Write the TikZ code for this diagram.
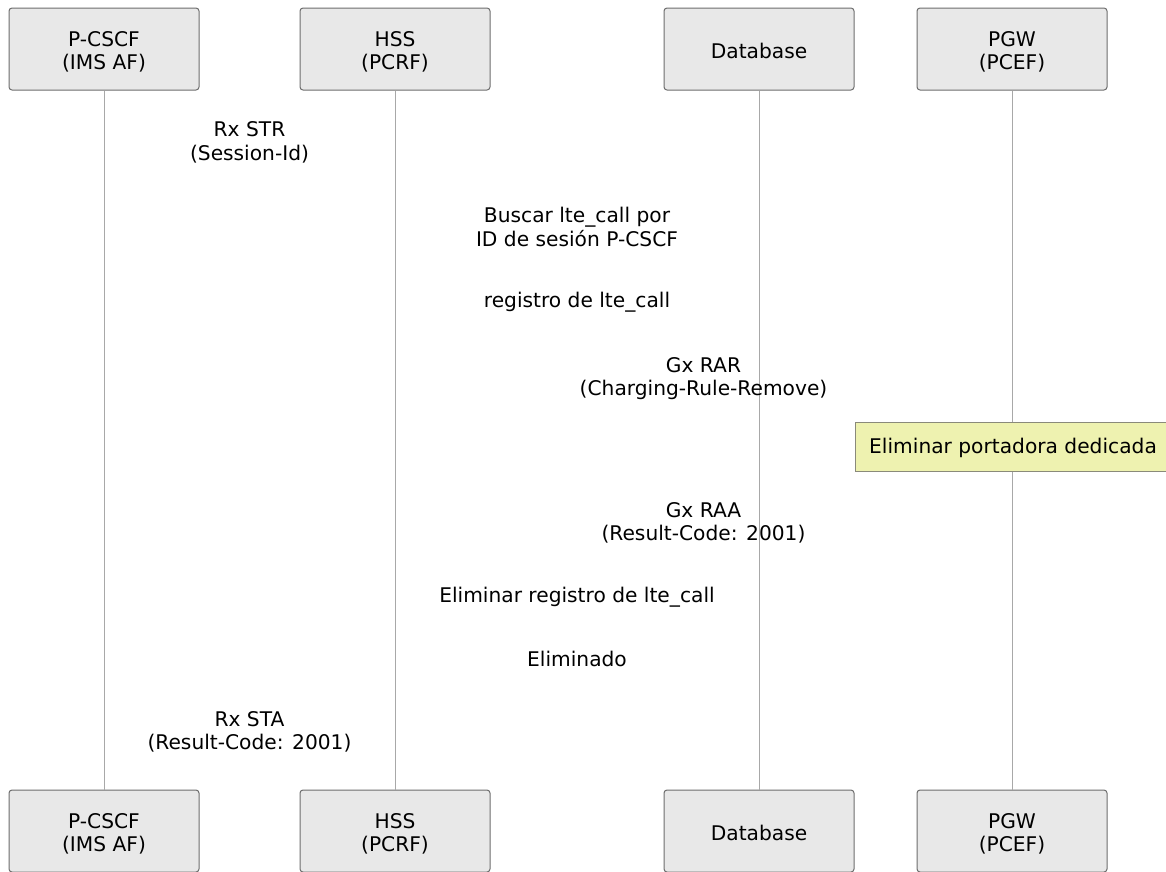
\documentclass[tikz,border=0pt]{standalone}
\usepackage{fontspec}
\setmainfont{DejaVu Sans}
\definecolor{boxfill}{HTML}{E8E8E8}
\definecolor{boxline}{HTML}{6E6E6E}
\definecolor{lifeline}{HTML}{A8A8A8}
\definecolor{notefill}{HTML}{EEF2B0}
\definecolor{noteline}{HTML}{8A8A7A}
\begin{document}
\begin{tikzpicture}[x=1pt,y=-1pt,
  txt/.style={font=\fontsize{20.2}{23.4}\selectfont, align=center, inner sep=0pt},
  actor/.style={draw=boxline, line width=1pt, fill=boxfill, rounded corners=3pt,
    minimum width=190pt, minimum height=82pt},
  life/.style={draw=lifeline, line width=1pt},
  msg/.style={txt}]
\useasboundingbox (0,0) rectangle (1166,871);
\clip (0,0) rectangle (1166,871);
\fill[white] (0,0) rectangle (1166,871);
% actors top
\node[actor] (a1) at (104,49) {};
\node[actor] (a2) at (395,49) {};
\node[actor] (a3) at (759,49) {};
\node[actor] (a4) at (1012,49) {};
\node[txt] (a1t) at (104,52) {P-CSCF\\(IMS AF)};
\node[txt] (a2t) at (395,52) {HSS\\(PCRF)};
\node[txt] (a3t) at (759,51) {Database};
\node[txt] (a4t) at (1012,52) {PGW\\(PCEF)};
% actors bottom
\node[actor] (b1) at (104,831) {};
\node[actor] (b2) at (395,831) {};
\node[actor] (b3) at (759,831) {};
\node[actor] (b4) at (1012,831) {};
\node[txt] (b1t) at (104,834) {P-CSCF\\(IMS AF)};
\node[txt] (b2t) at (395,834) {HSS\\(PCRF)};
\node[txt] (b3t) at (759,833) {Database};
\node[txt] (b4t) at (1012,834) {PGW\\(PCEF)};
% lifelines
\draw[life] (a1.south) -- (b1.north);
\draw[life] (a2.south) -- (b2.north);
\draw[life] (a3.south) -- (b3.north);
\draw[life] (a4.south) -- (b4.north);
% messages
\node[msg] (m1) at (249.5,142.5) {Rx STR\\(Session-Id)};
\node[msg] (m2) at (577,227) {Buscar lte\_call por\\ID de sesión P-CSCF};
\node[msg] (m3) at (577,302) {registro de lte\_call};
\node[msg] (m4) at (703.5,378.5) {Gx RAR\\(Charging-Rule-Remove)};
\node[draw=noteline, line width=1pt, fill=notefill, minimum width=320pt, minimum height=49pt,
  inner sep=0pt] (n1) at (1015,446.5) {};
\node[txt, anchor=west] (n1t) at (869,448) {Eliminar portadora dedicada};
\node[msg] (m5) at (703.5,523) {Gx RAA\\(Result-Code: 2001)};
\node[msg] (m6) at (577,597) {Eliminar registro de lte\_call};
\node[msg] (m7) at (577,659) {Eliminado};
\node[msg] (m8) at (249.5,732) {Rx STA\\(Result-Code: 2001)};
\end{tikzpicture}
\end{document}
